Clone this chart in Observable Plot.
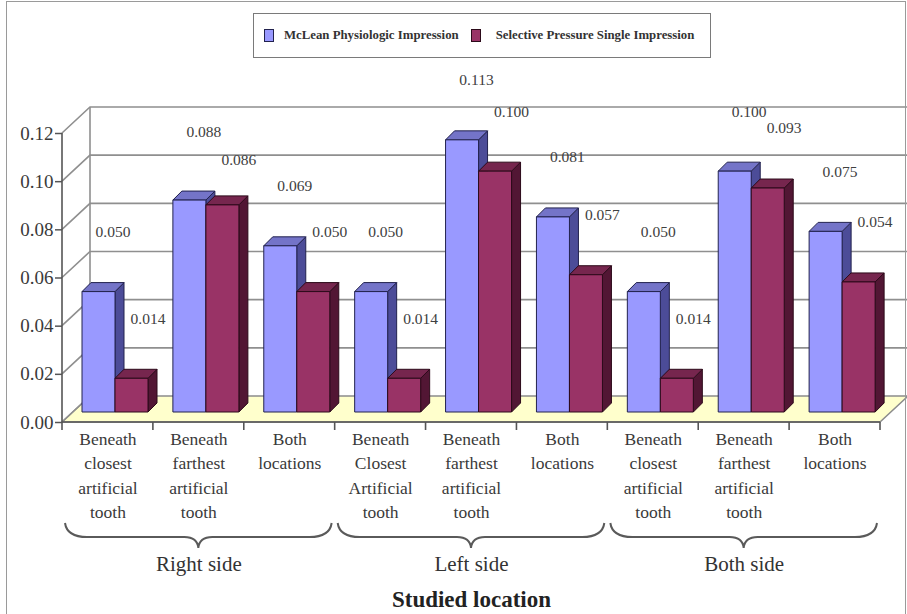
<!DOCTYPE html>
<html><head><meta charset="utf-8">
<script src="https://cdn.jsdelivr.net/npm/d3@7"></script>
<script src="https://cdn.jsdelivr.net/npm/@observablehq/plot@0.6"></script>
<style>
body{margin:0;background:#fff;}
#wrap{position:relative;width:907px;height:614px;overflow:hidden;font-family:"Liberation Serif",serif;background:#fff;}
#frame{position:absolute;left:6px;top:1px;width:898px;height:640px;border:1px solid #9a9a9a;pointer-events:none;}
#chart{position:absolute;left:0;top:0;}
#legend{position:absolute;left:253px;top:13px;width:456px;height:43px;border:1.5px solid #7a7a7a;background:#fff;display:flex;align-items:center;font-weight:bold;font-size:12.8px;color:#333;white-space:nowrap;}
.sw{display:inline-block;width:8px;height:11px;border:1px solid #333;}
</style></head><body>
<div id="wrap"><div id="chart"></div><div id="frame"></div><div id="legend"></div></div>
<script>
// ---- data ----
const categories = [
  "Beneath\nclosest\nartificial\ntooth",
  "Beneath\nfarthest\nartificial\ntooth",
  "Both\nlocations",
  "Beneath\nClosest\nArtificial\ntooth",
  "Beneath\nfarthest\nartificial\ntooth",
  "Both\nlocations",
  "Beneath\nclosest\nartificial\ntooth",
  "Beneath\nfarthest\nartificial\ntooth",
  "Both\nlocations"
];
const groups = ["Right side", "Left side", "Both side"];
const groupMembers = [[0, 1, 2], [3, 4, 5], [6, 7, 8]];
const seriesNames = ["McLean Physiologic Impression", "Selective Pressure Single Impression"];
const mclean = [0.050, 0.088, 0.069, 0.050, 0.113, 0.081, 0.050, 0.100, 0.075];
const selective = [0.014, 0.086, 0.050, 0.014, 0.100, 0.057, 0.014, 0.093, 0.054];
const yTicks = [0, 0.02, 0.04, 0.06, 0.08, 0.10, 0.12];
const axisTitle = "Studied location";

// ---- styles ----
const front = ["#9999ff", "#993366"];
const side = ["#4c4c98", "#521634"];
const topc = ["#7474c8", "#76264e"];
const edge = ["#22224e", "#2c0a1a"];
const WALL = [28, -26];
const BARD = [9, -9];
const BAROFF = -10;

const ids = categories.map((_, i) => i);
const rows = ids.flatMap(i => [{cat: i, s: 0, v: mclean[i]}, {cat: i, s: 1, v: selective[i]}]);
// pairs whose labels would collide get staggered
const close = i => Math.abs(mclean[i] - selective[i]) <= 0.005;
const idsClose = ids.filter(close), idsApart = ids.filter(i => !close(i));

function scene(index, scales, vals, dim) {
  const {x, y} = scales;
  const g = d3.create("svg:g");
  const x0 = dim.marginLeft, x1 = dim.width - dim.marginRight;
  const [dx, dy] = WALL;
  const ymax = yTicks[yTicks.length - 1];
  g.append("path")
    .attr("d", `M${x0},${y(0)}L${x1},${y(0)}L${x1 + dx},${y(0) + dy}L${x0 + dx},${y(0) + dy}Z`)
    .attr("fill", "#ffffcc").attr("stroke", "#8c8c8c").attr("stroke-width", 1.5);
  for (const t of yTicks) {
    g.append("path")
      .attr("d", `M${x0},${y(t)}L${x0 + dx},${y(t) + dy}` + (t > 0 ? `L${x1 + dx + 20},${y(t) + dy}` : ""))
      .attr("fill", "none").attr("stroke", "#8f8f8f").attr("stroke-width", 1.6);
  }
  g.append("line").attr("x1", x0 + dx).attr("x2", x0 + dx)
    .attr("y1", y(0) + dy).attr("y2", y(ymax) + dy)
    .attr("stroke", "#8f8f8f").attr("stroke-width", 1.6);
  g.append("line").attr("x1", x0).attr("x2", x0).attr("y1", y(0)).attr("y2", y(ymax))
    .attr("stroke", "#555").attr("stroke-width", 1.6);
  g.append("line").attr("x1", x0).attr("x2", x1).attr("y1", y(0)).attr("y2", y(0))
    .attr("stroke", "#555").attr("stroke-width", 1.6);
  const bw = x.bandwidth();
  const bounds = ids.map(i => x(i)).concat([x(ids[ids.length - 1]) + bw]);
  for (const b of bounds) {
    g.append("line").attr("x1", b).attr("x2", b).attr("y1", y(0)).attr("y2", y(0) + 8)
      .attr("stroke", "#555").attr("stroke-width", 1.6);
  }
  return g.node();
}

function bars(index, scales) {
  const {x, y} = scales;
  const g = d3.create("svg:g").attr("stroke-linejoin", "round");
  const w = 33;
  const [bx, by] = BARD;
  for (const r of rows) {
    const fx = x(r.cat) + 20 + r.s * w;
    const top = y(r.v) + BAROFF, base = y(0) + BAROFF;
    const s = r.s;
    g.append("path")
      .attr("d", `M${fx + w},${base}L${fx + w + bx},${base + by}L${fx + w + bx},${top + by}L${fx + w},${top}Z`)
      .attr("fill", side[s]).attr("stroke", edge[s]).attr("stroke-width", 1);
    g.append("path")
      .attr("d", `M${fx},${top}L${fx + bx},${top + by}L${fx + w + bx},${top + by}L${fx + w},${top}Z`)
      .attr("fill", topc[s]).attr("stroke", edge[s]).attr("stroke-width", 1);
    g.append("rect").attr("x", fx).attr("y", top).attr("width", w).attr("height", base - top)
      .attr("fill", front[s]).attr("stroke", edge[s]).attr("stroke-width", 1);
  }
  return g.node();
}

function braces(index, scales) {
  const {x, y} = scales;
  const g = d3.create("svg:g");
  const bw = x.bandwidth();
  const yt = y(0) + 101, ym = y(0) + 115, yp = y(0) + 126;
  for (const m of groupMembers) {
    const xa = x(m[0]) + 3, xb = x(m[m.length - 1]) + bw - 3, xm = (xa + xb) / 2;
    g.append("path")
      .attr("d", `M${xa},${yt}Q${xa + 2},${ym} ${xa + 22},${ym}L${xm - 14},${ym}Q${xm - 1},${ym} ${xm},${yp}` +
                 `Q${xm + 1},${ym} ${xm + 14},${ym}L${xb - 22},${ym}Q${xb - 2},${ym} ${xb},${yt}`)
      .attr("fill", "none").attr("stroke", "#5a5a5a").attr("stroke-width", 2);
  }
  return g.node();
}

const fmt3 = d3.format(".3f");
const labelStyle = {fontSize: 15.5, fill: "#404040"};
const chart = Plot.plot({
  width: 907, height: 614,
  marginLeft: 62, marginRight: 27, marginTop: 133, marginBottom: 192,
  style: {fontFamily: '"Liberation Serif", serif', background: "transparent", color: "#3a3a3a", overflow: "visible"},
  x: {type: "band", domain: ids, padding: 0, round: false},
  y: {domain: [0, 0.12]},
  marks: [
    scene,
    bars,
    Plot.axisY({ticks: yTicks, tickFormat: d3.format(".2f"), tickSize: 7, tickPadding: 2, fontSize: 19, label: null, stroke: "#555", strokeWidth: 1.5}),
    Plot.axisX({tickSize: 0, tickPadding: 5, tickFormat: i => categories[i], fontSize: 17.5, lineHeight: 1.4, label: null}),
    Plot.text(idsApart, {x: d => d, y: i => mclean[i], text: i => fmt3(mclean[i]), dx: 5, dy: -70, ...labelStyle}),
    Plot.text(idsApart, {x: d => d, y: i => selective[i], text: i => fmt3(selective[i]), dx: 40, dy: -70, ...labelStyle}),
    Plot.text(idsClose, {x: d => d, y: i => mclean[i], text: i => fmt3(mclean[i]), dx: 5, dy: -79, ...labelStyle}),
    Plot.text(idsClose, {x: d => d, y: i => selective[i], text: i => fmt3(selective[i]), dx: 40, dy: -55, ...labelStyle}),
    braces,
    Plot.text(groups, {x: (d, i) => groupMembers[i][1], frameAnchor: "bottom", dy: 148, fontSize: 21, text: d => d, fill: "#333"}),
    Plot.text([axisTitle], {frameAnchor: "bottom", dy: 184, fontSize: 23, fontWeight: "bold", text: d => d, fill: "#222"})
  ]
});
document.getElementById("chart").appendChild(chart);

// legend
const legend = document.getElementById("legend");
seriesNames.forEach((name, i) => {
  const sw = document.createElement("span");
  sw.className = "sw";
  sw.style.background = front[i];
  sw.style.borderColor = edge[i];
  sw.style.marginLeft = i === 0 ? "10px" : "12px";
  const t = document.createElement("span");
  t.textContent = name;
  t.style.marginLeft = i === 0 ? "10px" : "15px";
  legend.appendChild(sw);
  legend.appendChild(t);
});
</script>
</body></html>
